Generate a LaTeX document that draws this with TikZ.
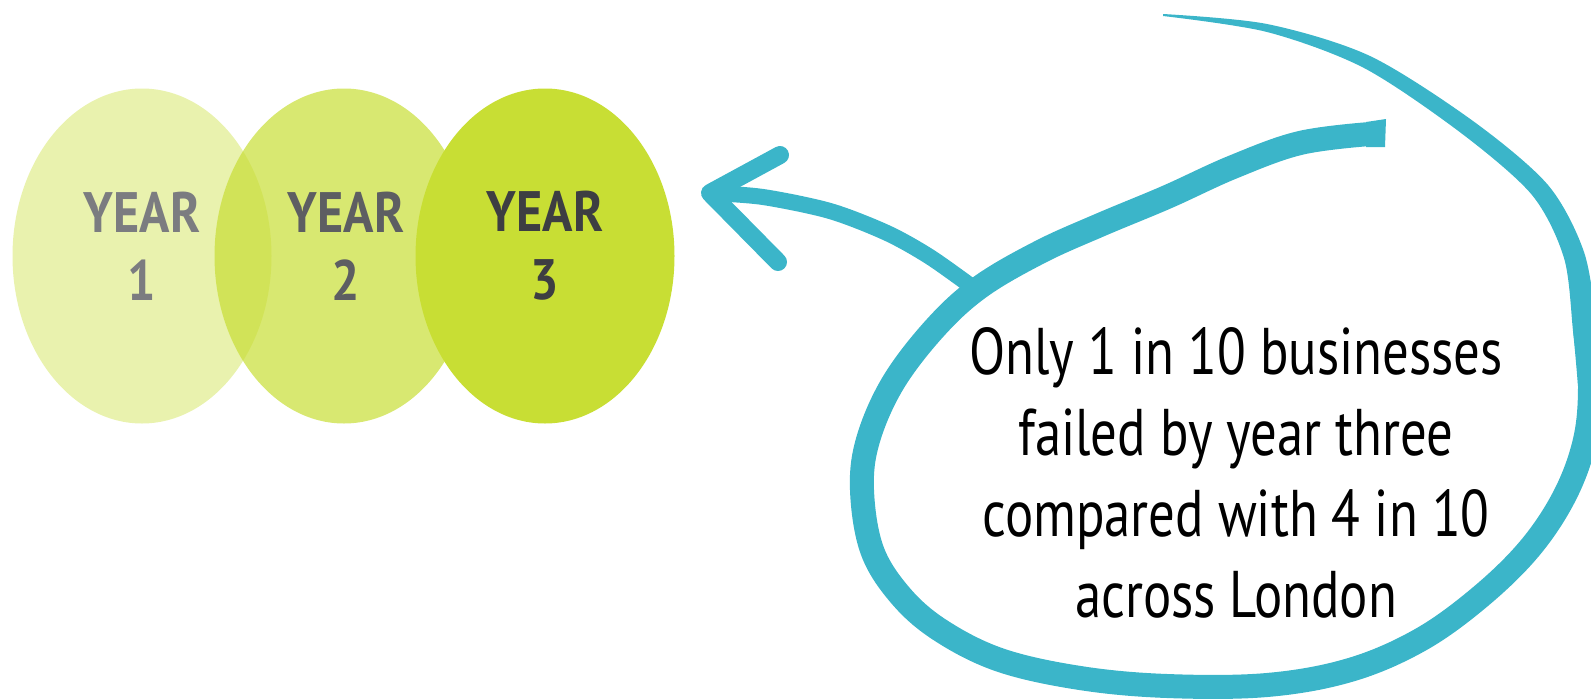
\documentclass[tikz,border=0pt]{standalone}
\usepackage{fontspec}
\usetikzlibrary{shapes.geometric}
\newfontfamily\labelfont[FakeStretch=0.88]{PT Sans}
\newfontfamily\notefont[FakeStretch=0.8]{PT Sans}
\definecolor{yeargreen}{RGB}{200,222,52}
\definecolor{swirl}{RGB}{59,181,201}
\definecolor{greyone}{RGB}{123,124,128}
\definecolor{greytwo}{RGB}{93,94,98}
\definecolor{greythree}{RGB}{61,62,66}
\begin{document}
\begin{tikzpicture}[x=1pt,y=-1pt,
		yearball/.style={ellipse, minimum width=259pt, minimum height=335pt, inner sep=0pt},
		yearlabel/.style={align=center, inner sep=0pt, font=\labelfont\bfseries\fontsize{57}{68}\selectfont},
		note/.style={align=center, inner sep=0pt, font=\notefont\fontsize{66}{80.7}\selectfont},
		loopline/.style={draw=swirl, line width=24pt}]
			\useasboundingbox (0,0) rectangle (1591,699);
			% the three years
			\node[yearball, fill=yeargreen!40] (y1) at (142,256) {};
			\node[yearball, fill=yeargreen, fill opacity=0.7] (y2) at (344,256) {};
			\node[yearball, fill=yeargreen] (y3) at (545,256) {};
			\node[yearlabel, text=greyone] (l1) at (142,246) {YEAR\\1};
			\node[yearlabel, text=greytwo] (l2) at (346,246) {YEAR\\2};
			\node[yearlabel, text=greythree] (l3) at (545,246) {YEAR\\3};
			% swirl
			\coordinate (joint) at (975,289);
			\coordinate (tip) at (710,193);
			\fill[swirl] (1366,122) -- (1386,119) -- (1385,147) -- (1366,147) -- cycle;
			\draw[loopline, line cap=round, line join=round] plot[smooth, tension=0.6] coordinates {(1370,134) (1300,143) (1233,167) (1167,197) (1100,225) (1040,252) (980,287) (935,328) (893,383) (868,440) (862,490) (872,550) (900,595) (940,630) (1000,660) (1080,678) (1167,686) (1267,685) (1350,670) (1420,640) (1480,597) (1530,548) (1565,495) (1585,440) (1590,385) (1585,330)};
			\fill[swirl] plot[smooth] coordinates {(1602,384) (1597,328) (1584,252) (1548,185) (1473,121) (1370,56) (1267,24) (1163,14)}
				-- plot[smooth] coordinates {(1163,16) (1267,32) (1364,68) (1461,133) (1532,195) (1564,258) (1573,331) (1578,386)} -- cycle;
			\draw[swirl, line width=16pt, line cap=round] plot[smooth] coordinates {(joint) (930,257) (887,233) (830,211) (763,197) (tip)};
			\draw[swirl, line width=18pt, line cap=round, line join=round] (780,155) -- (tip) -- (778,262);
			\node[note, anchor=base] (note) at (1236,617) {Only 1 in 10 businesses\\failed by year three\\compared with 4 in 10\\across London};
		\end{tikzpicture}
\end{document}
